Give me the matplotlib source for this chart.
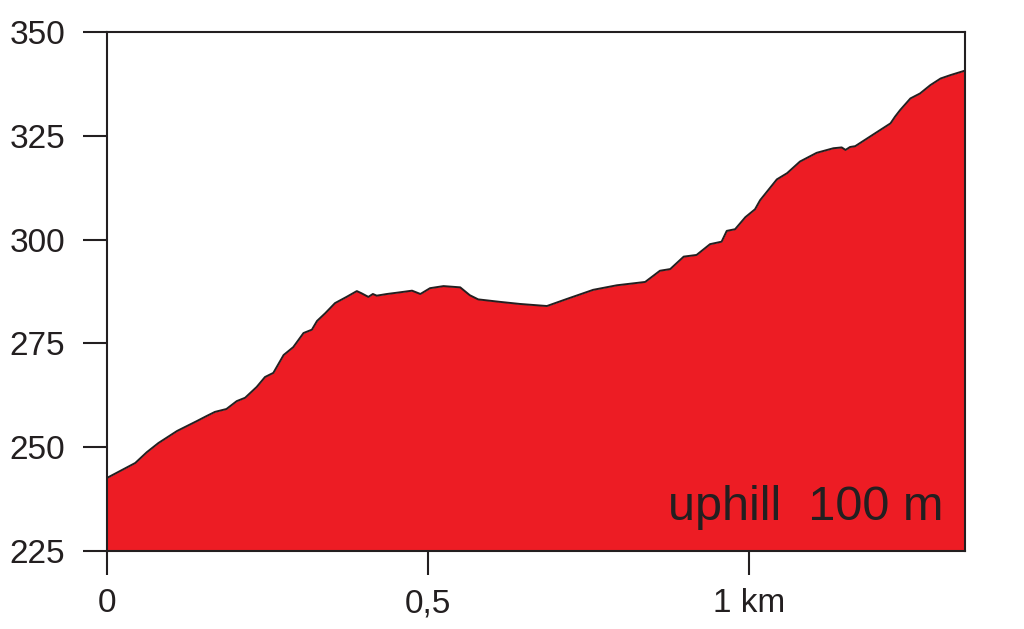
import matplotlib
matplotlib.use("Agg")
import matplotlib.pyplot as plt

distance_km = [0.000, 0.044, 0.062, 0.080, 0.109, 0.140, 0.155, 0.168, 0.186, 0.202,
               0.215, 0.233, 0.246, 0.259, 0.275, 0.290, 0.306, 0.319, 0.327, 0.340,
               0.355, 0.373, 0.389, 0.396, 0.407, 0.414, 0.420, 0.436, 0.456, 0.475,
               0.488, 0.503, 0.524, 0.550, 0.565, 0.578, 0.612, 0.643, 0.685, 0.716,
               0.757, 0.794, 0.838, 0.861, 0.877, 0.898, 0.918, 0.939, 0.957, 0.965,
               0.978, 0.994, 1.009, 1.017, 1.043, 1.059, 1.079, 1.105, 1.131, 1.144,
               1.150, 1.157, 1.165, 1.188, 1.220, 1.227, 1.235, 1.251, 1.266, 1.282,
               1.298, 1.313, 1.336]
elevation_m = [242.6, 246.2, 248.8, 251.0, 253.9, 256.3, 257.5, 258.5, 259.2, 261.1,
               261.9, 264.5, 266.9, 267.9, 272.2, 274.1, 277.5, 278.3, 280.4, 282.3,
               284.7, 286.2, 287.6, 287.1, 286.2, 286.9, 286.5, 286.9, 287.3, 287.7,
               286.9, 288.3, 288.8, 288.5, 286.6, 285.6, 285.0, 284.5, 284.0, 285.7,
               287.9, 289.0, 289.8, 292.5, 292.9, 295.9, 296.3, 298.9, 299.5, 302.1,
               302.5, 305.4, 307.3, 309.5, 314.5, 316.0, 318.8, 320.9, 322.0, 322.2,
               321.6, 322.3, 322.5, 324.8, 328.0, 329.6, 331.2, 334.0, 335.2, 337.2,
               338.8, 339.6, 340.7]

x_ticks = [0, 0.5, 1.0]
x_tick_labels = ["0", "0,5", "1 km"]
y_ticks = [225, 250, 275, 300, 325, 350]
y_tick_labels = ["225", "250", "275", "300", "325", "350"]
annotation = "uphill  100 m"

plt.rcParams['font.family'] = ['Liberation Sans', 'DejaVu Sans']
text_color = "#231f20"

fig = plt.figure(figsize=(10.24, 6.29), dpi=100)
ax = fig.add_axes([107/1024, 1 - 551/629, (965 - 107)/1024, (551 - 32)/629])

ax.fill_between(distance_km, elevation_m, 225, color="#ed1c24", linewidth=0, zorder=2)
ax.plot(distance_km, elevation_m, color="#231f20", linewidth=1.4, zorder=3)

ax.set_xlim(0, 1.336)
ax.set_ylim(225, 350)
ax.set_xticks(x_ticks)
ax.set_xticklabels(x_tick_labels)
ax.set_yticks(y_ticks)
ax.set_yticklabels(y_tick_labels)

for s in ax.spines.values():
    s.set_linewidth(1.5)
    s.set_color(text_color)
    s.set_zorder(4)

ax.tick_params(axis='both', direction='out', length=17, width=1.5, color=text_color,
               labelsize=24, labelcolor=text_color)
ax.tick_params(axis='x', pad=10)
ax.tick_params(axis='y', pad=13)

ax.text(0.975, 0.06, annotation, transform=ax.transAxes, ha='right', va='baseline',
        fontsize=35, color=text_color, zorder=5)

fig.savefig("out.png", dpi=100)
